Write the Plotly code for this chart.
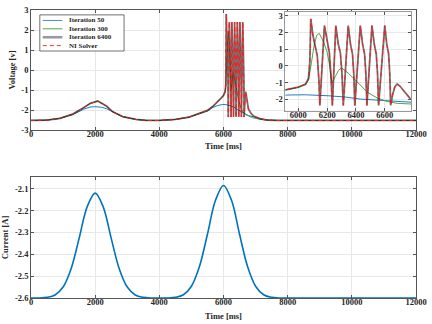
import plotly.graph_objects as go

# ---- values ----
# voltage, slow part before the burst (Iteration 300 / 6400 / NI Solver agree here)
t_head = [0, 500, 900, 1300, 1640, 1840, 2080, 2350, 2550, 2860, 3270, 3600,
          4000, 4500, 4930, 5340, 5500, 5670, 5820, 5910, 6000, 6050]
v_head = [-2.52, -2.50, -2.41, -2.20, -1.88, -1.67, -1.55, -1.80, -2.09, -2.33, -2.47, -2.52,
          -2.52, -2.47, -2.35, -2.13, -2.02, -1.81, -1.60, -1.43, -1.27, -1.09]

# voltage burst, Iteration 6400 (NI Solver lies on top of it)
t_burst = [6070, 6080, 6086, 6102, 6120, 6131, 6143, 6149,
           6181, 6199, 6215, 6226, 6236,
           6260, 6276, 6292, 6303, 6312,
           6346, 6362, 6376, 6385, 6392,
           6430, 6446, 6460, 6469, 6476,
           6511, 6527, 6541, 6550, 6557,
           6600, 6614, 6627, 6635, 6641,
           6655, 6670, 6686, 6705, 6732, 6777]
v_burst = [-0.75, 0.30, 2.80, 1.78, 1.10, 0.62, -0.90, -2.35,
           2.40, 1.40, 0.80, -0.55, -2.35,
           2.40, 1.35, 0.75, -0.50, -2.35,
           2.40, 1.30, 0.70, -0.50, -2.35,
           2.40, 1.30, 0.70, -0.50, -2.35,
           2.40, 1.30, 0.70, -0.50, -2.35,
           2.40, 1.30, 0.70, -0.50, -2.35,
           -1.70, -1.25, -1.08, -1.20, -1.49, -1.95]

# voltage decay after the burst
t_tail = [6850, 6940, 7145, 7350, 7700, 12000]
v_tail = [-2.15, -2.30, -2.44, -2.50, -2.52, -2.52]

# Iteration 300 during the burst
t_it300 = [6070, 6086, 6109, 6127, 6145, 6177, 6200, 6217, 6233, 6256, 6279, 6301,
           6346, 6392, 6437, 6482, 6550, 6618, 6686, 6777, 6900, 7100, 7350, 7700, 12000]
v_it300 = [-0.85, -0.06, 1.20, 1.82, 1.94, 1.39, 0.81, 0.03, -1.03, -0.64, -0.26, -0.12,
           -0.43, -0.81, -1.20, -1.59, -1.92, -2.12, -2.23, -2.31, -2.38, -2.45, -2.50, -2.52, -2.52]

# Iteration 50
t_it50 = [0, 500, 900, 1300, 1640, 1840, 2000, 2200, 2350, 2550, 2860, 3270, 3600,
          4000, 4500, 4930, 5340, 5500, 5670, 5820, 5950, 6050, 6211, 6330, 6437,
          6550, 6664, 6777, 6940, 7145, 7400, 7700, 12000]
v_it50 = [-2.52, -2.50, -2.42, -2.23, -1.96, -1.85, -1.83, -1.86, -1.93, -2.09, -2.33, -2.47, -2.52,
          -2.52, -2.47, -2.35, -2.15, -2.05, -1.87, -1.77, -1.73, -1.72, -1.78, -1.86, -1.98,
          -2.08, -2.17, -2.27, -2.34, -2.43, -2.49, -2.52, -2.52]

t_it6400 = t_head + t_burst + t_tail
v_it6400 = v_head + v_burst + v_tail
t_it300 = t_head + t_it300
v_it300 = v_head + v_it300
t_ni, v_ni = t_it6400, v_it6400

# input current
t_cur = [0, 250, 500, 750, 1000, 1250, 1500, 1750, 2000, 2250, 2500, 2750, 3000, 3250,
         3500, 3750, 4000, 4250, 4500, 4750, 5000, 5250, 5500, 5750, 6000, 6250, 6500,
         6750, 7000, 7250, 7500, 7750, 8000, 12000]
i_cur = [-2.6, -2.6, -2.597, -2.586, -2.550, -2.466, -2.327, -2.183, -2.12, -2.183, -2.327,
         -2.466, -2.550, -2.586, -2.597, -2.6, -2.6, -2.6, -2.597, -2.585, -2.546, -2.456,
         -2.308, -2.153, -2.085, -2.153, -2.308, -2.456, -2.546, -2.585, -2.597, -2.6, -2.6, -2.6]

v_ticks = [3, 2, 1, 0, -1, -2, -3]
v_ticklabels = ["3", "2", "1", "0", "-1", "-2", "-3"]
i_ticks = [-2.1, -2.2, -2.3, -2.4, -2.5, -2.6]
i_ticklabels = ["-2.1", "-2.2", "-2.3", "-2.4", "-2.5", "-2.6"]
inset_xticks = [6000, 6200, 6400, 6600]
inset_yticks = [3, 2, 1, 0, -1, -2]
inset_ylabels = ["3", "2", "1", "0", "-1", "-2"]

SERIF = "Liberation Serif"
AX = "#555555"
GRID = "#e8e8e8"
INK = "#262626"

# (name, x, y, line in plot, line in legend)
series = [
    ("Iteration 50", t_it50, v_it50, dict(color="#0072BD", width=0.9), dict(color="#3a93d6", width=1)),
    ("Iteration 300", t_it300, v_it300, dict(color="#3f9a3a", width=0.9), dict(color="#4fa446", width=1)),
    ("Iteration 6400", t_it6400, v_it6400, dict(color="rgba(0,0,0,0.55)", width=1.8),
     dict(color="#9a9a9a", width=2.6)),
    ("NI Solver", t_ni, v_ni, dict(color="#ff1a1a", width=1.0, dash="4px,3px"),
     dict(color="#ff3030", width=1, dash="4px,3px")),
]

fig = go.Figure()
for name, t, v, line, _ in series:
    fig.add_trace(go.Scatter(x=t, y=v, mode="lines", name=name, line=line,
                             xaxis="x", yaxis="y", showlegend=False))
for name, t, v, line, _ in series:
    fig.add_trace(go.Scatter(x=t, y=v, mode="lines", name=name, line=line,
                             xaxis="x3", yaxis="y3", showlegend=False))
fig.add_trace(go.Scatter(x=t_cur, y=i_cur, mode="lines", line_shape="spline",
                         line=dict(color="#0072BD", width=1.6), showlegend=False,
                         xaxis="x2", yaxis="y2"))

tickfont = dict(family=SERIF, size=8.5, color=INK, weight="bold")
titlefont = dict(family=SERIF, size=8.5, color=INK, weight="bold")
common = dict(showline=True, linecolor=AX, linewidth=0.8, mirror="ticks",
              ticks="inside", ticklen=3, tickcolor=AX, tickwidth=0.8,
              showgrid=True, gridcolor=GRID, gridwidth=0.8, zeroline=False,
              tickfont=tickfont, ticklabeloverflow="allow")
xcommon = {**common, "ticklabelstandoff": -4}
inset_x = {**xcommon, "linecolor": "#9a9a9a"}
inset_y = {**common, "linecolor": "#9a9a9a"}

W, H = 432, 324
M = dict(l=31, r=8, t=5, b=24)


def px_x(px):
    return (px - M["l"]) / (W - M["l"] - M["r"])


def px_y(py):
    return (H - M["b"] - py) / (H - M["t"] - M["b"])


# MATLAB-style compact legend box (plotly's own legend rows are too tall here)
leg_x0, leg_x1, leg_y0, leg_y1 = 40, 126, 10, 47
row_h = 8.6
fig.add_shape(type="rect", xref="paper", yref="paper",
              x0=px_x(leg_x0), x1=px_x(leg_x1), y0=px_y(leg_y1), y1=px_y(leg_y0),
              fillcolor="white", line=dict(color="#333333", width=0.7), layer="above")
for i, (name, _, _, _, leg_line) in enumerate(series):
    yy = px_y(leg_y0 + 5.7 + i * row_h)
    fig.add_shape(type="line", xref="paper", yref="paper",
                  x0=px_x(leg_x0 + 3), x1=px_x(leg_x0 + 23), y0=yy, y1=yy,
                  line=leg_line, layer="above")
    fig.add_annotation(text=name, xref="paper", yref="paper", x=px_x(leg_x0 + 28), y=yy,
                       xanchor="left", yanchor="middle", showarrow=False,
                       font=dict(family=SERIF, size=7, color=INK, weight="bold"))

fig.update_layout(
    width=W, height=H, margin=M,
    paper_bgcolor="white", plot_bgcolor="white", showlegend=False,
    font=dict(family=SERIF, size=8, color=INK),
    xaxis=dict(domain=[0, 1], anchor="y", range=[0, 12000], dtick=2000, tickformat="d",
               title=dict(text="Time [ms]", font=titlefont, standoff=4), **xcommon),
    yaxis=dict(domain=[px_y(128), 1], anchor="x", range=[-3, 3],
               tickvals=v_ticks, ticktext=v_ticklabels,
               title=dict(text="Voltage [v]", font=titlefont, standoff=4), **common),
    xaxis2=dict(domain=[0, 1], anchor="y2", range=[0, 12000], dtick=2000, tickformat="d",
                title=dict(text="Time [ms]", font=titlefont, standoff=6), **xcommon),
    yaxis2=dict(domain=[0, px_y(176)], anchor="x2", range=[-2.6, -2.046],
                tickvals=i_ticks, ticktext=i_ticklabels,
                title=dict(text="Current [A]", font=titlefont, standoff=4), **common),
    xaxis3=dict(domain=[px_x(290.7), px_x(419.3)], anchor="y3", range=[5910, 6785],
                tickvals=inset_xticks, tickformat="d", **inset_x),
    yaxis3=dict(domain=[px_y(108), px_y(7)], anchor="x3", range=[-2.66, 3.215],
                tickvals=inset_yticks, ticktext=inset_ylabels, **inset_y),
)

# the page body has a default 8px margin that would push the figure out of the window
fig.write_html("out.html", config={"displayModeBar": False},
               post_script="document.body.style.margin='0';")
